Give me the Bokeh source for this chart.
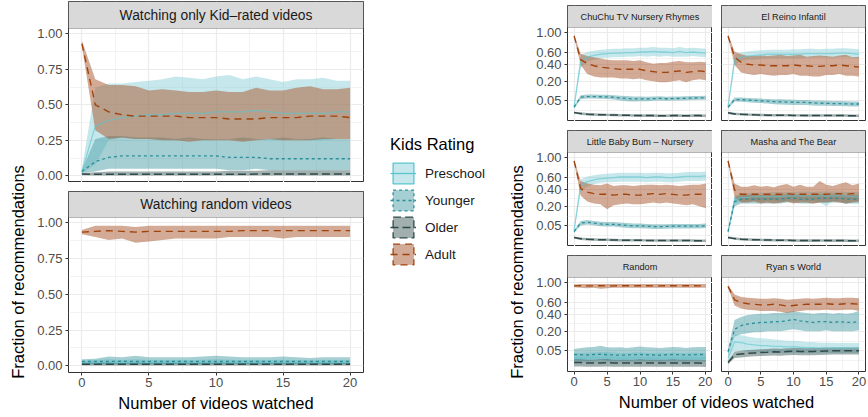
import numpy as np
from bokeh.plotting import figure
from bokeh.layouts import row, column
from bokeh.models import (Range1d, FixedTicker, CustomJSTickFormatter, NumeralTickFormatter,
                          Legend, LegendItem, Spacer, BoxAnnotation, Label)
from bokeh.core.properties import value
from bokeh.embed import file_html
from bokeh.resources import INLINE

FONT = "Liberation Sans"

# ---------------- data ----------------
X = [0, 1, 2, 3, 4, 5, 6, 7, 8, 9, 10, 11, 12, 13, 14, 15, 16, 17, 18, 19, 20]
CATS = ["Preschool", "Younger", "Older", "Adult"]
X_TICKS = [0, 5, 10, 15, 20]
LIN_TICKS = [0.0, 0.25, 0.5, 0.75, 1.0]
SQRT_TICKS = [0.05, 0.2, 0.4, 0.6, 1.0]

# Left: Watching only Kid-rated videos
KID_PRE = [0.03, 0.35, 0.39, 0.41, 0.42, 0.43, 0.43, 0.44, 0.44, 0.44, 0.45, 0.45, 0.45, 0.46, 0.45, 0.44, 0.44, 0.44, 0.44, 0.45, 0.45]
KID_PRE_LO = [0.02, 0.08, 0.25, 0.27, 0.26, 0.26, 0.25, 0.25, 0.26, 0.25, 0.26, 0.26, 0.25, 0.26, 0.25, 0.25, 0.26, 0.25, 0.25, 0.26, 0.26]
KID_PRE_HI = [0.05, 0.62, 0.65, 0.65, 0.66, 0.67, 0.68, 0.70, 0.69, 0.68, 0.70, 0.71, 0.68, 0.70, 0.68, 0.66, 0.68, 0.68, 0.69, 0.67, 0.67]
KID_YOU = [0.03, 0.10, 0.13, 0.14, 0.14, 0.14, 0.14, 0.14, 0.14, 0.14, 0.14, 0.13, 0.13, 0.13, 0.12, 0.12, 0.12, 0.12, 0.12, 0.12, 0.12]
KID_YOU_LO = [0.02, 0.03, 0.05, 0.05, 0.05, 0.05, 0.05, 0.05, 0.05, 0.05, 0.05, 0.04, 0.04, 0.05, 0.04, 0.04, 0.04, 0.04, 0.04, 0.04, 0.04]
KID_YOU_HI = [0.04, 0.26, 0.28, 0.28, 0.27, 0.27, 0.27, 0.26, 0.27, 0.26, 0.26, 0.26, 0.27, 0.26, 0.26, 0.27, 0.26, 0.26, 0.27, 0.26, 0.26]
KID_OLD = [0.012, 0.011, 0.011, 0.011, 0.011, 0.011, 0.011, 0.011, 0.011, 0.011, 0.011, 0.011, 0.011, 0.012, 0.012, 0.012, 0.012, 0.012, 0.012, 0.012, 0.012]
KID_OLD_LO = [0.004, 0.003, 0.002, 0.002, 0.002, 0.002, 0.002, 0.002, 0.002, 0.002, 0.002, 0.002, 0.002, 0.002, 0.002, 0.002, 0.002, 0.002, 0.002, 0.002, 0.002]
KID_OLD_HI = [0.02, 0.025, 0.03, 0.03, 0.03, 0.03, 0.03, 0.03, 0.03, 0.03, 0.03, 0.035, 0.035, 0.035, 0.04, 0.04, 0.04, 0.04, 0.04, 0.04, 0.04]
KID_ADU = [0.93, 0.50, 0.45, 0.43, 0.42, 0.42, 0.42, 0.42, 0.41, 0.41, 0.41, 0.40, 0.40, 0.40, 0.41, 0.41, 0.41, 0.42, 0.42, 0.42, 0.41]
KID_ADU_LO = [0.91, 0.32, 0.26, 0.27, 0.26, 0.26, 0.25, 0.25, 0.24, 0.25, 0.25, 0.25, 0.24, 0.25, 0.26, 0.25, 0.25, 0.25, 0.26, 0.26, 0.26]
KID_ADU_HI = [0.95, 0.68, 0.64, 0.64, 0.63, 0.60, 0.61, 0.60, 0.59, 0.59, 0.60, 0.59, 0.59, 0.62, 0.60, 0.60, 0.62, 0.63, 0.61, 0.61, 0.62]

# Left: Watching random videos
RND_PRE = [0.02, 0.02, 0.02, 0.021, 0.02, 0.02, 0.021, 0.02, 0.02, 0.02, 0.021, 0.02, 0.02, 0.02, 0.021, 0.02, 0.02, 0.02, 0.02, 0.02, 0.02]
RND_PRE_LO = [0.008, 0.008, 0.008, 0.008, 0.008, 0.008, 0.008, 0.008, 0.008, 0.008, 0.008, 0.008, 0.008, 0.008, 0.008, 0.008, 0.008, 0.008, 0.008, 0.008, 0.008]
RND_PRE_HI = [0.035, 0.04, 0.045, 0.04, 0.045, 0.04, 0.04, 0.04, 0.04, 0.042, 0.045, 0.042, 0.04, 0.04, 0.04, 0.042, 0.04, 0.038, 0.04, 0.04, 0.04]
RND_YOU = [0.03, 0.03, 0.03, 0.032, 0.03, 0.03, 0.03, 0.03, 0.03, 0.03, 0.03, 0.03, 0.03, 0.03, 0.03, 0.03, 0.03, 0.03, 0.03, 0.03, 0.03]
RND_YOU_LO = [0.012, 0.012, 0.012, 0.012, 0.012, 0.012, 0.012, 0.012, 0.012, 0.012, 0.012, 0.012, 0.012, 0.012, 0.012, 0.012, 0.012, 0.012, 0.012, 0.012, 0.012]
RND_YOU_HI = [0.045, 0.05, 0.065, 0.06, 0.07, 0.06, 0.06, 0.06, 0.06, 0.065, 0.07, 0.065, 0.06, 0.06, 0.06, 0.065, 0.06, 0.055, 0.06, 0.06, 0.06]
RND_OLD = [0.01, 0.01, 0.01, 0.01, 0.01, 0.01, 0.01, 0.01, 0.01, 0.01, 0.01, 0.01, 0.01, 0.01, 0.01, 0.01, 0.01, 0.01, 0.01, 0.01, 0.01]
RND_OLD_LO = [0.002, 0.002, 0.002, 0.002, 0.002, 0.002, 0.002, 0.002, 0.002, 0.002, 0.002, 0.002, 0.002, 0.002, 0.002, 0.002, 0.002, 0.002, 0.002, 0.002, 0.002]
RND_OLD_HI = [0.02, 0.02, 0.022, 0.02, 0.022, 0.02, 0.02, 0.02, 0.02, 0.02, 0.022, 0.02, 0.02, 0.02, 0.02, 0.02, 0.02, 0.02, 0.02, 0.02, 0.02]
RND_ADU = [0.935, 0.94, 0.945, 0.94, 0.935, 0.94, 0.94, 0.94, 0.94, 0.94, 0.94, 0.94, 0.945, 0.945, 0.945, 0.945, 0.945, 0.945, 0.945, 0.945, 0.945]
RND_ADU_LO = [0.92, 0.90, 0.88, 0.89, 0.86, 0.87, 0.88, 0.89, 0.89, 0.89, 0.89, 0.90, 0.90, 0.90, 0.90, 0.89, 0.90, 0.90, 0.90, 0.90, 0.90]
RND_ADU_HI = [0.95, 0.98, 0.98, 0.98, 0.97, 0.98, 0.98, 0.98, 0.98, 0.98, 0.98, 0.98, 0.98, 0.98, 0.98, 0.98, 0.98, 0.98, 0.98, 0.98, 0.98]

# Right: ChuChu TV Nursery Rhymes
CHU_PRE = [0.025, 0.45, 0.52, 0.55, 0.57, 0.58, 0.59, 0.59, 0.60, 0.60, 0.61, 0.61, 0.62, 0.61, 0.61, 0.60, 0.62, 0.60, 0.61, 0.60, 0.59]
CHU_PRE_LO = [0.02, 0.36, 0.45, 0.48, 0.50, 0.51, 0.52, 0.52, 0.53, 0.53, 0.54, 0.53, 0.54, 0.53, 0.54, 0.53, 0.53, 0.53, 0.54, 0.53, 0.52]
CHU_PRE_HI = [0.03, 0.56, 0.61, 0.63, 0.65, 0.66, 0.67, 0.67, 0.68, 0.68, 0.69, 0.69, 0.70, 0.69, 0.69, 0.68, 0.70, 0.68, 0.69, 0.68, 0.67]
CHU_YOU = [0.023, 0.07, 0.074, 0.074, 0.073, 0.072, 0.07, 0.066, 0.062, 0.06, 0.061, 0.06, 0.062, 0.063, 0.061, 0.062, 0.063, 0.064, 0.065, 0.066, 0.067]
CHU_YOU_LO = [0.018, 0.058, 0.062, 0.062, 0.061, 0.06, 0.057, 0.052, 0.048, 0.047, 0.048, 0.048, 0.05, 0.051, 0.05, 0.051, 0.052, 0.053, 0.054, 0.055, 0.056]
CHU_YOU_HI = [0.028, 0.083, 0.087, 0.087, 0.086, 0.085, 0.083, 0.08, 0.077, 0.074, 0.075, 0.073, 0.075, 0.076, 0.073, 0.074, 0.075, 0.076, 0.077, 0.078, 0.079]
CHU_OLD = [0.008, 0.006, 0.005, 0.0045, 0.004, 0.004, 0.0038, 0.0036, 0.0034, 0.0032, 0.003, 0.003, 0.003, 0.0028, 0.0028, 0.003, 0.003, 0.0028, 0.003, 0.003, 0.0028]
CHU_OLD_LO = [0.006, 0.004, 0.003, 0.0028, 0.0025, 0.0024, 0.0022, 0.002, 0.0019, 0.0018, 0.0016, 0.0016, 0.0016, 0.0015, 0.0015, 0.0016, 0.0016, 0.0015, 0.0016, 0.0016, 0.0015]
CHU_OLD_HI = [0.01, 0.0085, 0.0072, 0.0066, 0.006, 0.0058, 0.0056, 0.0054, 0.0052, 0.005, 0.0048, 0.0048, 0.0048, 0.0045, 0.0045, 0.0048, 0.0048, 0.0045, 0.0048, 0.0048, 0.0045]
CHU_ADU = [0.93, 0.48, 0.42, 0.39, 0.37, 0.36, 0.35, 0.34, 0.34, 0.34, 0.34, 0.32, 0.31, 0.30, 0.30, 0.31, 0.32, 0.30, 0.31, 0.32, 0.31]
CHU_ADU_LO = [0.90, 0.40, 0.28, 0.25, 0.24, 0.24, 0.24, 0.23, 0.23, 0.22, 0.23, 0.21, 0.20, 0.19, 0.19, 0.20, 0.21, 0.19, 0.21, 0.22, 0.21]
CHU_ADU_HI = [0.96, 0.58, 0.54, 0.52, 0.50, 0.48, 0.47, 0.47, 0.47, 0.46, 0.47, 0.44, 0.42, 0.43, 0.43, 0.45, 0.46, 0.44, 0.44, 0.45, 0.44]

# Right: El Reino Infantil
REI_PRE = [0.025, 0.47, 0.52, 0.54, 0.55, 0.56, 0.57, 0.57, 0.57, 0.57, 0.57, 0.57, 0.58, 0.58, 0.58, 0.58, 0.58, 0.59, 0.59, 0.58, 0.57]
REI_PRE_LO = [0.02, 0.40, 0.46, 0.48, 0.48, 0.49, 0.50, 0.50, 0.50, 0.50, 0.50, 0.50, 0.51, 0.51, 0.51, 0.51, 0.51, 0.52, 0.52, 0.51, 0.50]
REI_PRE_HI = [0.03, 0.56, 0.60, 0.62, 0.63, 0.64, 0.65, 0.65, 0.65, 0.65, 0.66, 0.66, 0.67, 0.67, 0.66, 0.67, 0.67, 0.68, 0.68, 0.67, 0.66]
REI_YOU = [0.023, 0.057, 0.056, 0.054, 0.052, 0.05, 0.048, 0.046, 0.045, 0.044, 0.043, 0.042, 0.042, 0.04, 0.039, 0.038, 0.037, 0.037, 0.036, 0.035, 0.035]
REI_YOU_LO = [0.018, 0.046, 0.045, 0.043, 0.041, 0.039, 0.037, 0.034, 0.033, 0.032, 0.031, 0.031, 0.031, 0.029, 0.028, 0.028, 0.027, 0.027, 0.026, 0.025, 0.025]
REI_YOU_HI = [0.028, 0.069, 0.068, 0.066, 0.064, 0.062, 0.06, 0.059, 0.058, 0.057, 0.056, 0.054, 0.054, 0.052, 0.051, 0.05, 0.049, 0.049, 0.048, 0.047, 0.047]
REI_OLD = [0.0075, 0.0055, 0.0048, 0.0044, 0.004, 0.0038, 0.0036, 0.0036, 0.0034, 0.0034, 0.0032, 0.0032, 0.003, 0.003, 0.003, 0.0032, 0.003, 0.003, 0.003, 0.0029, 0.0029]
REI_OLD_LO = [0.0055, 0.0038, 0.003, 0.0027, 0.0024, 0.0023, 0.0021, 0.0021, 0.002, 0.002, 0.0019, 0.0019, 0.0017, 0.0017, 0.0017, 0.0019, 0.0017, 0.0017, 0.0017, 0.0016, 0.0016]
REI_OLD_HI = [0.0095, 0.0078, 0.007, 0.0064, 0.006, 0.0057, 0.0055, 0.0055, 0.0052, 0.0052, 0.005, 0.005, 0.0048, 0.0048, 0.0048, 0.005, 0.0048, 0.0048, 0.0048, 0.0046, 0.0046]
REI_ADU = [0.93, 0.52, 0.44, 0.41, 0.40, 0.40, 0.39, 0.39, 0.39, 0.39, 0.40, 0.39, 0.39, 0.38, 0.38, 0.39, 0.39, 0.40, 0.39, 0.38, 0.37]
REI_ADU_LO = [0.90, 0.40, 0.30, 0.28, 0.27, 0.28, 0.27, 0.26, 0.27, 0.27, 0.28, 0.26, 0.26, 0.25, 0.25, 0.27, 0.27, 0.28, 0.26, 0.26, 0.25]
REI_ADU_HI = [0.96, 0.62, 0.57, 0.54, 0.54, 0.55, 0.54, 0.55, 0.56, 0.54, 0.55, 0.56, 0.53, 0.54, 0.55, 0.54, 0.53, 0.55, 0.56, 0.52, 0.53]

# Right: Little Baby Bum - Nursery
LBB_PRE = [0.03, 0.47, 0.53, 0.56, 0.58, 0.59, 0.60, 0.61, 0.61, 0.61, 0.61, 0.60, 0.61, 0.61, 0.60, 0.60, 0.61, 0.62, 0.62, 0.62, 0.63]
LBB_PRE_LO = [0.025, 0.38, 0.45, 0.49, 0.51, 0.52, 0.52, 0.53, 0.53, 0.53, 0.53, 0.52, 0.53, 0.53, 0.52, 0.52, 0.53, 0.54, 0.54, 0.54, 0.55]
LBB_PRE_HI = [0.035, 0.57, 0.62, 0.64, 0.66, 0.67, 0.68, 0.69, 0.69, 0.69, 0.69, 0.68, 0.69, 0.69, 0.68, 0.68, 0.69, 0.70, 0.70, 0.70, 0.71]
LBB_YOU = [0.025, 0.065, 0.07, 0.065, 0.06, 0.058, 0.058, 0.055, 0.052, 0.05, 0.05, 0.048, 0.046, 0.046, 0.047, 0.048, 0.048, 0.048, 0.048, 0.048, 0.05]
LBB_YOU_LO = [0.02, 0.052, 0.057, 0.053, 0.048, 0.046, 0.046, 0.043, 0.04, 0.038, 0.038, 0.037, 0.035, 0.035, 0.036, 0.037, 0.037, 0.037, 0.037, 0.037, 0.039]
LBB_YOU_HI = [0.03, 0.078, 0.084, 0.078, 0.073, 0.071, 0.071, 0.068, 0.065, 0.063, 0.063, 0.06, 0.058, 0.058, 0.059, 0.06, 0.06, 0.06, 0.06, 0.06, 0.062]
LBB_OLD = [0.008, 0.0058, 0.005, 0.0045, 0.0042, 0.004, 0.0038, 0.0036, 0.0035, 0.0034, 0.0034, 0.0032, 0.0031, 0.003, 0.003, 0.003, 0.003, 0.003, 0.003, 0.0028, 0.0028]
LBB_OLD_LO = [0.006, 0.0038, 0.003, 0.0027, 0.0025, 0.0024, 0.0022, 0.0021, 0.002, 0.002, 0.002, 0.0019, 0.0018, 0.0017, 0.0017, 0.0017, 0.0017, 0.0017, 0.0017, 0.0016, 0.0016]
LBB_OLD_HI = [0.0105, 0.0082, 0.0072, 0.0066, 0.0062, 0.006, 0.0057, 0.0055, 0.0054, 0.0052, 0.0052, 0.005, 0.0049, 0.0048, 0.0048, 0.0048, 0.0048, 0.0048, 0.0048, 0.0046, 0.0046]
LBB_ADU = [0.93, 0.42, 0.37, 0.35, 0.34, 0.34, 0.33, 0.34, 0.34, 0.33, 0.33, 0.34, 0.35, 0.34, 0.35, 0.34, 0.33, 0.33, 0.34, 0.34, 0.35]
LBB_ADU_LO = [0.90, 0.32, 0.25, 0.23, 0.22, 0.17, 0.21, 0.22, 0.23, 0.22, 0.22, 0.23, 0.24, 0.23, 0.24, 0.23, 0.22, 0.21, 0.22, 0.20, 0.18]
LBB_ADU_HI = [0.96, 0.54, 0.50, 0.48, 0.47, 0.50, 0.46, 0.47, 0.47, 0.46, 0.47, 0.48, 0.48, 0.47, 0.48, 0.47, 0.46, 0.47, 0.48, 0.48, 0.50]

# Right: Masha and The Bear
MAS_PRE = [0.025, 0.27, 0.30, 0.30, 0.31, 0.31, 0.31, 0.31, 0.31, 0.32, 0.32, 0.32, 0.32, 0.32, 0.32, 0.32, 0.32, 0.32, 0.32, 0.31, 0.31]
MAS_PRE_LO = [0.02, 0.22, 0.25, 0.25, 0.26, 0.25, 0.26, 0.26, 0.24, 0.26, 0.26, 0.26, 0.25, 0.26, 0.24, 0.20, 0.25, 0.26, 0.22, 0.25, 0.25]
MAS_PRE_HI = [0.03, 0.32, 0.35, 0.36, 0.36, 0.36, 0.36, 0.37, 0.37, 0.37, 0.37, 0.38, 0.38, 0.37, 0.38, 0.38, 0.38, 0.38, 0.37, 0.37, 0.37]
MAS_YOU = [0.025, 0.25, 0.28, 0.28, 0.28, 0.28, 0.28, 0.28, 0.28, 0.29, 0.29, 0.28, 0.28, 0.28, 0.29, 0.29, 0.29, 0.29, 0.28, 0.28, 0.28]
MAS_YOU_LO = [0.02, 0.20, 0.23, 0.23, 0.23, 0.23, 0.23, 0.23, 0.23, 0.24, 0.24, 0.23, 0.23, 0.23, 0.24, 0.24, 0.24, 0.24, 0.23, 0.23, 0.23]
MAS_YOU_HI = [0.03, 0.30, 0.33, 0.33, 0.33, 0.33, 0.33, 0.33, 0.33, 0.34, 0.34, 0.33, 0.33, 0.33, 0.34, 0.34, 0.34, 0.34, 0.33, 0.33, 0.33]
MAS_OLD = [0.008, 0.006, 0.005, 0.0045, 0.004, 0.004, 0.0038, 0.0036, 0.0034, 0.0034, 0.0032, 0.003, 0.003, 0.003, 0.0032, 0.0032, 0.003, 0.003, 0.003, 0.0028, 0.0028]
MAS_OLD_LO = [0.006, 0.004, 0.003, 0.0028, 0.0025, 0.0024, 0.0022, 0.002, 0.0019, 0.0019, 0.0018, 0.0016, 0.0016, 0.0016, 0.0018, 0.0018, 0.0016, 0.0016, 0.0016, 0.0015, 0.0015]
MAS_OLD_HI = [0.0105, 0.0085, 0.0072, 0.0066, 0.006, 0.0058, 0.0056, 0.0054, 0.0052, 0.0052, 0.005, 0.0048, 0.0048, 0.0048, 0.005, 0.005, 0.0048, 0.0048, 0.0048, 0.0045, 0.0045]
MAS_ADU = [0.93, 0.40, 0.34, 0.34, 0.34, 0.34, 0.34, 0.34, 0.34, 0.35, 0.34, 0.34, 0.34, 0.34, 0.34, 0.34, 0.35, 0.35, 0.34, 0.35, 0.35]
MAS_ADU_LO = [0.90, 0.30, 0.24, 0.24, 0.25, 0.23, 0.24, 0.23, 0.24, 0.25, 0.23, 0.24, 0.24, 0.23, 0.24, 0.24, 0.25, 0.24, 0.23, 0.24, 0.25]
MAS_ADU_HI = [0.96, 0.50, 0.45, 0.45, 0.47, 0.45, 0.46, 0.44, 0.47, 0.49, 0.45, 0.48, 0.45, 0.45, 0.54, 0.48, 0.46, 0.49, 0.52, 0.47, 0.50]

# Right: Random
RR_PRE = [0.02, 0.02, 0.02, 0.021, 0.021, 0.022, 0.021, 0.02, 0.02, 0.021, 0.021, 0.02, 0.02, 0.021, 0.02, 0.021, 0.02, 0.02, 0.021, 0.02, 0.02]
RR_PRE_LO = [0.008, 0.008, 0.008, 0.008, 0.009, 0.009, 0.008, 0.008, 0.008, 0.008, 0.009, 0.008, 0.008, 0.008, 0.008, 0.008, 0.008, 0.008, 0.008, 0.008, 0.008]
RR_PRE_HI = [0.038, 0.04, 0.042, 0.042, 0.044, 0.044, 0.042, 0.04, 0.04, 0.042, 0.043, 0.041, 0.04, 0.042, 0.04, 0.042, 0.04, 0.04, 0.042, 0.04, 0.04]
RR_YOU = [0.033, 0.032, 0.031, 0.033, 0.034, 0.032, 0.031, 0.03, 0.031, 0.032, 0.033, 0.032, 0.031, 0.03, 0.032, 0.033, 0.032, 0.031, 0.032, 0.033, 0.033]
RR_YOU_LO = [0.013, 0.013, 0.012, 0.013, 0.014, 0.013, 0.012, 0.012, 0.012, 0.013, 0.013, 0.013, 0.012, 0.012, 0.013, 0.013, 0.013, 0.012, 0.013, 0.013, 0.013]
RR_YOU_HI = [0.06, 0.065, 0.07, 0.072, 0.08, 0.07, 0.068, 0.07, 0.066, 0.07, 0.074, 0.07, 0.068, 0.066, 0.068, 0.072, 0.07, 0.066, 0.07, 0.072, 0.072]
RR_OLD = [0.008, 0.008, 0.007, 0.007, 0.007, 0.008, 0.007, 0.007, 0.007, 0.007, 0.007, 0.007, 0.007, 0.007, 0.007, 0.007, 0.007, 0.007, 0.007, 0.007, 0.006]
RR_OLD_LO = [0.002, 0.002, 0.0018, 0.0018, 0.0018, 0.002, 0.0018, 0.0018, 0.0018, 0.0018, 0.0018, 0.0018, 0.0018, 0.0018, 0.0018, 0.0018, 0.0018, 0.0018, 0.0018, 0.0018, 0.0015]
RR_OLD_HI = [0.016, 0.016, 0.015, 0.015, 0.016, 0.017, 0.015, 0.015, 0.015, 0.015, 0.016, 0.015, 0.015, 0.015, 0.015, 0.016, 0.015, 0.015, 0.015, 0.015, 0.014]
RR_ADU = [0.93, 0.935, 0.93, 0.93, 0.935, 0.93, 0.93, 0.935, 0.935, 0.93, 0.935, 0.935, 0.93, 0.93, 0.935, 0.935, 0.93, 0.935, 0.935, 0.93, 0.93]
RR_ADU_LO = [0.90, 0.89, 0.88, 0.89, 0.87, 0.88, 0.89, 0.89, 0.89, 0.89, 0.89, 0.89, 0.89, 0.89, 0.89, 0.89, 0.89, 0.89, 0.89, 0.89, 0.89]
RR_ADU_HI = [0.96, 0.97, 0.97, 0.97, 0.97, 0.97, 0.97, 0.97, 0.97, 0.97, 0.97, 0.97, 0.97, 0.97, 0.97, 0.97, 0.97, 0.97, 0.97, 0.97, 0.97]

# Right: Ryan s World
RYA_PRE = [0.02, 0.105, 0.10, 0.09, 0.085, 0.08, 0.08, 0.075, 0.075, 0.072, 0.073, 0.07, 0.068, 0.067, 0.066, 0.066, 0.065, 0.064, 0.064, 0.065, 0.065]
RYA_PRE_LO = [0.012, 0.05, 0.05, 0.045, 0.045, 0.042, 0.042, 0.04, 0.04, 0.04, 0.04, 0.04, 0.038, 0.038, 0.038, 0.04, 0.04, 0.04, 0.04, 0.04, 0.04]
RYA_PRE_HI = [0.03, 0.17, 0.16, 0.15, 0.14, 0.135, 0.13, 0.125, 0.12, 0.115, 0.115, 0.11, 0.105, 0.105, 0.10, 0.10, 0.10, 0.098, 0.098, 0.098, 0.098]
RYA_YOU = [0.045, 0.22, 0.26, 0.28, 0.29, 0.30, 0.30, 0.31, 0.31, 0.32, 0.34, 0.32, 0.31, 0.30, 0.31, 0.31, 0.30, 0.31, 0.30, 0.30, 0.31]
RYA_YOU_LO = [0.03, 0.15, 0.17, 0.18, 0.19, 0.19, 0.20, 0.20, 0.20, 0.21, 0.22, 0.21, 0.20, 0.20, 0.20, 0.21, 0.20, 0.20, 0.20, 0.20, 0.21]
RYA_YOU_HI = [0.06, 0.33, 0.37, 0.40, 0.41, 0.42, 0.42, 0.43, 0.43, 0.44, 0.46, 0.44, 0.43, 0.42, 0.43, 0.43, 0.42, 0.43, 0.42, 0.43, 0.46]
RYA_OLD = [0.008, 0.032, 0.035, 0.038, 0.04, 0.042, 0.043, 0.045, 0.044, 0.046, 0.048, 0.047, 0.046, 0.047, 0.048, 0.049, 0.05, 0.05, 0.05, 0.05, 0.05]
RYA_OLD_LO = [0.005, 0.02, 0.022, 0.024, 0.026, 0.027, 0.028, 0.029, 0.028, 0.03, 0.031, 0.03, 0.03, 0.03, 0.031, 0.032, 0.033, 0.033, 0.033, 0.033, 0.033]
RYA_OLD_HI = [0.012, 0.046, 0.05, 0.054, 0.056, 0.058, 0.06, 0.062, 0.061, 0.064, 0.066, 0.065, 0.064, 0.065, 0.066, 0.067, 0.068, 0.068, 0.068, 0.068, 0.068]
RYA_ADU = [0.92, 0.65, 0.60, 0.58, 0.57, 0.56, 0.56, 0.57, 0.56, 0.54, 0.55, 0.56, 0.57, 0.57, 0.57, 0.58, 0.57, 0.57, 0.58, 0.58, 0.57]
RYA_ADU_LO = [0.89, 0.55, 0.50, 0.48, 0.47, 0.46, 0.46, 0.46, 0.45, 0.43, 0.45, 0.46, 0.47, 0.47, 0.47, 0.48, 0.47, 0.47, 0.48, 0.48, 0.46]
RYA_ADU_HI = [0.95, 0.75, 0.70, 0.69, 0.68, 0.67, 0.67, 0.68, 0.67, 0.65, 0.66, 0.67, 0.68, 0.67, 0.68, 0.69, 0.68, 0.68, 0.69, 0.69, 0.68]

# ---------------- styles ----------------
LINE = {"Preschool": "#5BC5CF", "Younger": "#2B8F99", "Older": "#2F4A4A", "Adult": "#A0440E"}
FILL = {"Preschool": "#8ED1DA", "Younger": "#4B9FA7", "Older": "#455F5F", "Adult": "#A8552B"}
DASH = {"Preschool": "solid", "Younger": "3 3", "Older": "8 4", "Adult": "7 5"}
LW = {"Preschool": 1.3, "Younger": 1.3, "Older": 1.5, "Adult": 1.4}
LALPHA = {"Preschool": 0.6, "Younger": 1.0, "Older": 1.0, "Adult": 1.0}
GRID = "#EBEBEB"
BORDER = "#333333"
STRIP = "#D9D9D9"


def style_axis(ax):
    ax.axis_line_color = None
    ax.major_tick_line_color = BORDER
    ax.major_tick_out = 3
    ax.major_tick_in = 0
    ax.minor_tick_line_color = None
    ax.major_label_text_font = FONT
    ax.major_label_text_font_size = "13px"
    ax.major_label_text_color = "#4D4D4D"
    ax.major_label_standoff = 2


def panel(data, w, frame_h, strip_h, mbl, mbr, mbb, sqrt_y, show_y, show_x, strip_text, strip_size):
    y0, y1 = (-0.0125, 1.0605) if sqrt_y else (-0.047, 1.037)
    yend = y1 + strip_h * (y1 - y0) / frame_h
    p = figure(width=w, height=strip_h + frame_h + mbb, title=None,
               x_range=Range1d(-1, 21), y_range=Range1d(y0, yend),
               x_axis_location="below" if show_x else None,
               y_axis_location="left" if show_y else None,
               min_border_left=mbl, min_border_right=mbr, min_border_top=0,
               min_border_bottom=mbb, output_backend="svg", toolbar_location=None)
    p.background_fill_color = "white"
    p.border_fill_color = "white"
    p.outline_line_color = BORDER
    p.outline_line_width = 1
    xt = FixedTicker(ticks=X_TICKS, minor_ticks=[2.5, 7.5, 12.5, 17.5])
    if sqrt_y:
        maj = list(np.sqrt(SQRT_TICKS))
        mids = [(a + b) / 2 for a, b in zip(maj[:-1], maj[1:])]
        mins = [maj[0] - (maj[1] - maj[0]) / 2] + mids
        yt = FixedTicker(ticks=maj, minor_ticks=mins)
        tf = np.sqrt
    else:
        yt = FixedTicker(ticks=LIN_TICKS, minor_ticks=[0.125, 0.375, 0.625, 0.875])
        tf = np.asarray
    for g, t in ((p.xgrid, xt), (p.ygrid, yt)):
        g.axis = None
        g.ticker = t
        g.grid_line_color = GRID
        g.grid_line_width = 1.2
        g.minor_grid_line_color = GRID
        g.minor_grid_line_width = 0.6
    if show_x:
        p.xaxis.ticker = xt
        style_axis(p.xaxis[0])
        p.xaxis.major_label_standoff = 1
    if show_y:
        p.yaxis.ticker = yt
        style_axis(p.yaxis[0])
        if sqrt_y:
            p.yaxis.formatter = CustomJSTickFormatter(code="return (tick*tick).toFixed(2);")
        else:
            p.yaxis.formatter = NumeralTickFormatter(format="0.00")
    for cat, (m, lo, hi) in zip(CATS, data):
        p.varea(x=X, y1=tf(lo), y2=tf(hi), fill_color=FILL[cat], fill_alpha=0.5)
    for cat, (m, lo, hi) in zip(CATS, data):
        p.line(x=X, y=tf(m), line_color=LINE[cat], line_width=LW[cat],
               line_dash=DASH[cat], line_alpha=LALPHA[cat])
    # facet strip
    p.add_layout(BoxAnnotation(left=-1, right=21, bottom=y1, top=yend, fill_color=STRIP,
                               fill_alpha=1, line_color=BORDER, line_width=1))
    p.add_layout(Label(x=10, y=(y1 + yend) / 2, text=strip_text, text_align="center",
                       text_baseline="middle", text_font=FONT, text_font_size=strip_size,
                       text_color="#1A1A1A"))
    return p


def text_fig(w, h, txt, fx, fy, angle, size, mbl=0, mbr=0):
    f = figure(width=w, height=h, title=None, x_range=Range1d(0, 1), y_range=Range1d(0, 1),
               x_axis_location=None, y_axis_location=None,
               min_border_left=mbl, min_border_right=mbr, min_border_top=0, min_border_bottom=0,
               output_backend="svg", toolbar_location=None)
    f.grid.visible = False
    f.border_fill_color = "white"
    f.background_fill_color = "white"
    f.outline_line_color = None
    f.text(x=[fx], y=[fy], text=[txt], angle=angle, text_align="center", text_baseline="middle",
           text_font=value(FONT), text_font_size=size, text_color="#000000")
    return f


H = 412
YT_FRAC = (H - 203) / H

# ---------------- left block ----------------
KID = [(KID_PRE, KID_PRE_LO, KID_PRE_HI), (KID_YOU, KID_YOU_LO, KID_YOU_HI),
       (KID_OLD, KID_OLD_LO, KID_OLD_HI), (KID_ADU, KID_ADU_LO, KID_ADU_HI)]
RND = [(RND_PRE, RND_PRE_LO, RND_PRE_HI), (RND_YOU, RND_YOU_LO, RND_YOU_HI),
       (RND_OLD, RND_OLD_LO, RND_OLD_HI), (RND_ADU, RND_ADU_LO, RND_ADU_HI)]

LWID = 331
left_col = column(
    Spacer(width=LWID, height=1),
    panel(KID, LWID, 154, 27, 32, 2, 0, False, True, False,
          "Watching only Kid\u2013rated videos", "13.8px"),
    Spacer(width=LWID, height=9),
    panel(RND, LWID, 155, 26, 32, 2, 20, False, True, True,
          "Watching random videos", "13.8px"),
    text_fig(LWID, 20, "Number of videos watched", 0.5, 0.5, 0, "16.5px", mbl=32, mbr=2),
)
left_yt = text_fig(34, H, "Fraction of recommendations", 0.5, YT_FRAC, np.pi / 2, "16.5px")

# ---------------- legend ----------------
lf = figure(width=135, height=H, title=None, x_range=Range1d(0, 1), y_range=Range1d(0, 1),
            x_axis_location=None, y_axis_location=None, min_border_left=25, min_border_right=0,
            min_border_top=135, min_border_bottom=0, output_backend="svg", toolbar_location=None)
lf.grid.visible = False
lf.outline_line_color = None
items = []
for cat in CATS:
    # proxies placed outside the visible range: only their legend keys show
    r1 = lf.patch(x=[5, 6, 6], y=[5, 5, 6], fill_color=FILL[cat], fill_alpha=0.5,
                  line_color=LINE[cat], line_width=1.3, line_dash=DASH[cat])
    r2 = lf.line(x=[5, 6], y=[5, 5], line_color=LINE[cat], line_width=1.3, line_dash=DASH[cat])
    items.append(LegendItem(label=cat, renderers=[r1, r2]))
leg = Legend(items=items, location="top_left", title="Kids Rating")
leg.title_text_font = FONT
leg.title_text_font_size = "16.5px"
leg.title_text_font_style = "normal"
leg.title_text_color = "#000000"
leg.title_standoff = 6
leg.label_text_font = FONT
leg.label_text_font_size = "13.5px"
leg.label_text_color = "#1A1A1A"
leg.glyph_width = 26
leg.glyph_height = 26
leg.label_height = 26
leg.label_standoff = 9
leg.spacing = 1
leg.padding = 0
leg.margin = 0
leg.border_line_color = None
leg.background_fill_alpha = 0
lf.add_layout(leg)

# ---------------- right block ----------------
CHU = [(CHU_PRE, CHU_PRE_LO, CHU_PRE_HI), (CHU_YOU, CHU_YOU_LO, CHU_YOU_HI),
       (CHU_OLD, CHU_OLD_LO, CHU_OLD_HI), (CHU_ADU, CHU_ADU_LO, CHU_ADU_HI)]
REI = [(REI_PRE, REI_PRE_LO, REI_PRE_HI), (REI_YOU, REI_YOU_LO, REI_YOU_HI),
       (REI_OLD, REI_OLD_LO, REI_OLD_HI), (REI_ADU, REI_ADU_LO, REI_ADU_HI)]
LBB = [(LBB_PRE, LBB_PRE_LO, LBB_PRE_HI), (LBB_YOU, LBB_YOU_LO, LBB_YOU_HI),
       (LBB_OLD, LBB_OLD_LO, LBB_OLD_HI), (LBB_ADU, LBB_ADU_LO, LBB_ADU_HI)]
MAS = [(MAS_PRE, MAS_PRE_LO, MAS_PRE_HI), (MAS_YOU, MAS_YOU_LO, MAS_YOU_HI),
       (MAS_OLD, MAS_OLD_LO, MAS_OLD_HI), (MAS_ADU, MAS_ADU_LO, MAS_ADU_HI)]
RR = [(RR_PRE, RR_PRE_LO, RR_PRE_HI), (RR_YOU, RR_YOU_LO, RR_YOU_HI),
      (RR_OLD, RR_OLD_LO, RR_OLD_HI), (RR_ADU, RR_ADU_LO, RR_ADU_HI)]
RYA = [(RYA_PRE, RYA_PRE_LO, RYA_PRE_HI), (RYA_YOU, RYA_YOU_LO, RYA_YOU_HI),
       (RYA_OLD, RYA_OLD_LO, RYA_OLD_HI), (RYA_ADU, RYA_ADU_LO, RYA_ADU_HI)]

FACETS = [("ChuChu TV Nursery Rhymes", CHU), ("El Reino Infantil", REI),
          ("Little Baby Bum \u2013 Nursery", LBB), ("Masha and The Bear", MAS),
          ("Random", RR), ("Ryan s World", RYA)]

C1W, C1L, C1R = 180, 35, 0
C2W, C2L, C2R = 154, 9, 1
rows = [Spacer(width=C1W + C2W, height=5)]
for r in range(3):
    (n1, d1), (n2, d2) = FACETS[2 * r], FACETS[2 * r + 1]
    last = r == 2
    mbb = 20 if last else 0
    rows.append(row(panel(d1, C1W, 94, 22, C1L, C1R, mbb, True, True, last, n1, "9.2px"),
                    panel(d2, C2W, 94, 22, C2L, C2R, mbb, True, False, last, n2, "9.2px")))
    if not last:
        rows.append(Spacer(width=C1W + C2W, height=9))
rows.append(text_fig(C1W + C2W, 20, "Number of videos watched", 0.5, 0.5, 0, "16.5px",
                     mbl=C1L, mbr=C2R))
right_col = column(*rows)
right_yt = text_fig(32, H, "Fraction of recommendations", 0.5, YT_FRAC, np.pi / 2, "16.5px")

layout = row(left_yt, left_col, lf, right_yt, right_col)
open("out.html", "w").write(file_html(layout, INLINE))
